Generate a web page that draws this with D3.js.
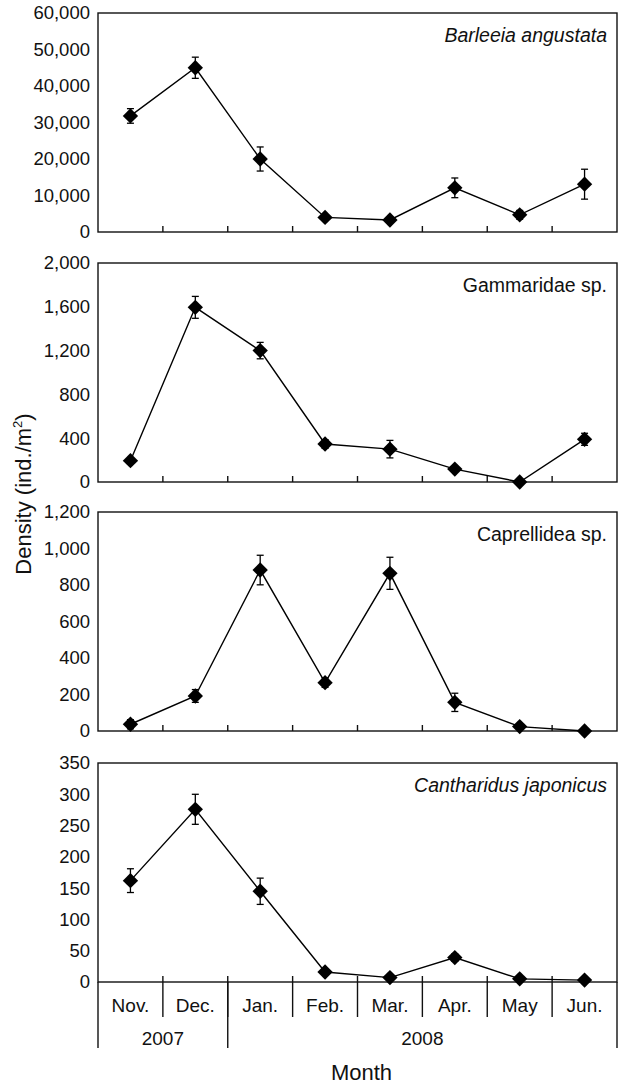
<!DOCTYPE html>
<html>
<head>
<meta charset="utf-8">
<script src="https://cdn.jsdelivr.net/npm/d3@7"></script>
<style>
  body { margin: 0; background: #fff; }
  text { font-family: "Liberation Sans", Arial, sans-serif; fill: #111; }
</style>
</head>
<body>
<div id="chart"></div>
<script>
// data
var months = ["Nov.", "Dec.", "Jan.", "Feb.", "Mar.", "Apr.", "May", "Jun."]
var yearLabels = ["2007", "2008"]
var yearSpans = [2, 6]   // number of months in each year

var speciesNames = ["Barleeia angustata", "Gammaridae sp.", "Caprellidea sp.", "Cantharidus japonicus"]
var speciesItalic = [true, false, false, true]
var yMax = [60000, 2000, 1200, 350]
var yStep = [10000, 400, 200, 50]

var barleeia = [31800, 45000, 20000, 4000, 3300, 12100, 4700, 13100]
var barleeiaErr = [2000, 2900, 3300, 600, 400, 2700, 1200, 4100]
var gammaridae = [195, 1595, 1200, 347, 300, 118, 0, 390]
var gammaridaeErr = [15, 100, 75, 40, 80, 15, 0, 55]
var caprellidea = [37, 192, 882, 265, 864, 157, 24, 0]
var caprellideaErr = [25, 35, 81, 26, 88, 50, 8, 0]
var cantharidus = [162, 276, 145, 16, 7, 39, 5, 3]
var cantharidusErr = [19, 24, 21, 4, 2, 6, 2, 1]

var seriesValues = [barleeia, gammaridae, caprellidea, cantharidus]
var seriesErrors = [barleeiaErr, gammaridaeErr, caprellideaErr, cantharidusErr]

var width = 626, height = 1085
var left = 98, right = 617
var panelTops = [13, 263, 512, 763]
var panelH = 219

var svg = d3.select('#chart').append('svg')
  .attr('width', width)
  .attr('height', height)

var x = d3.scaleBand()
  .domain(months)
  .range([left, right])

var fmt = d3.format(',')
var diamond = d3.symbol().type(d3.symbolDiamond2).size(150)

seriesValues.forEach(function(vals, i){
  var top = panelTops[i]
  var bottom = top + panelH
  var errs = seriesErrors[i]

  var y = d3.scaleLinear()
    .domain([0, yMax[i]])
    .range([bottom, top])

  var g = svg.append('g')

  // y axis labels (no tick marks in the original)
  var yAxis = d3.axisLeft(y)
    .tickValues(d3.range(0, yMax[i] + 1, yStep[i]))
    .tickFormat(fmt)
    .tickSize(0)
    .tickPadding(8)

  g.append('g')
    .attr('transform', 'translate(' + left + ',0)')
    .call(yAxis)
    .call(function(a){
      a.select('.domain').remove()
      a.selectAll('text')
        .attr('font-size', 18.5)
        .attr('font-family', '"Liberation Sans", Arial, sans-serif')
        .attr('fill', '#111')
    })

  // frame
  g.append('rect')
    .attr('x', left)
    .attr('y', top)
    .attr('width', right - left)
    .attr('height', panelH)
    .attr('fill', 'none')
    .attr('stroke', '#111')
    .attr('stroke-width', 1.4)

  // month separator ticks
  var bounds = months.slice(1).map(function(m){ return x(m) })
  var last = (i == seriesValues.length - 1)
  g.selectAll('.sep')
    .data(bounds)
    .enter()
    .append('line')
    .attr('x1', d => d)
    .attr('x2', d => d)
    .attr('y1', bottom - 6)
    .attr('y2', last ? bottom + 35 : bottom)
    .attr('stroke', '#111')
    .attr('stroke-width', 1.4)

  // connecting line
  var line = d3.line()
    .x(function(d, j){ return x(months[j]) + x.bandwidth() / 2 })
    .y(d => y(d))

  g.append('path')
    .datum(vals)
    .attr('d', line)
    .attr('fill', 'none')
    .attr('stroke', '#000')
    .attr('stroke-width', 1.4)

  // error bars
  var eb = g.selectAll('.err')
    .data(vals)
    .enter()
    .append('g')
    .filter(function(d, j){ return errs[j] > 0 })

  eb.append('line')
    .attr('x1', (d, j) => x(months[j]) + x.bandwidth() / 2)
    .attr('x2', (d, j) => x(months[j]) + x.bandwidth() / 2)
    .attr('y1', (d, j) => y(d + errs[j]))
    .attr('y2', (d, j) => y(d - errs[j]))
    .attr('stroke', '#000')
    .attr('stroke-width', 1.3)

  eb.selectAll('.cap')
    .data(function(d){
      var j = vals.indexOf(d)
      return [[j, d + errs[j]], [j, d - errs[j]]]
    })
    .enter()
    .append('line')
    .attr('x1', d => x(months[d[0]]) + x.bandwidth() / 2 - 3.5)
    .attr('x2', d => x(months[d[0]]) + x.bandwidth() / 2 + 3.5)
    .attr('y1', d => y(d[1]))
    .attr('y2', d => y(d[1]))
    .attr('stroke', '#000')
    .attr('stroke-width', 1.3)

  // diamond markers
  g.selectAll('.pt')
    .data(vals)
    .enter()
    .append('path')
    .attr('d', diamond)
    .attr('transform', (d, j) => 'translate(' + (x(months[j]) + x.bandwidth() / 2) + ',' + y(d) + ')')
    .attr('fill', '#000')

  // species name
  g.append('text')
    .attr('x', 607)
    .attr('y', top + 28.5)
    .attr('text-anchor', 'end')
    .attr('font-size', 19.5)
    .attr('font-style', speciesItalic[i] ? 'italic' : 'normal')
    .text(speciesNames[i])
})

// bottom category table: months and years
var lastBottom = panelTops[3] + panelH

svg.selectAll('.month')
  .data(months)
  .enter()
  .append('text')
  .attr('x', d => x(d) + x.bandwidth() / 2)
  .attr('y', lastBottom + 29.5)
  .attr('text-anchor', 'middle')
  .attr('font-size', 19)
  .text(d => d)

var yearBounds = [0]
yearSpans.forEach(function(s, k){ yearBounds.push(yearBounds[k] + s) })
var yearX = yearBounds.map(function(b){ return b < months.length ? x(months[b]) : right })

svg.selectAll('.yearline')
  .data(yearX)
  .enter()
  .append('line')
  .attr('x1', d => d)
  .attr('x2', d => d)
  .attr('y1', lastBottom)
  .attr('y2', lastBottom + 66)
  .attr('stroke', '#111')
  .attr('stroke-width', 1.4)

svg.selectAll('.year')
  .data(yearLabels)
  .enter()
  .append('text')
  .attr('x', (d, k) => (yearX[k] + yearX[k + 1]) / 2)
  .attr('y', lastBottom + 63)
  .attr('text-anchor', 'middle')
  .attr('font-size', 19)
  .text(d => d)

// axis titles
svg.append('text')
  .attr('x', (left + right) / 2 + 4)
  .attr('y', 1080)
  .attr('text-anchor', 'middle')
  .attr('font-size', 22)
  .text('Month')

var yt = svg.append('text')
  .attr('transform', 'translate(31,494) rotate(-90)')
  .attr('text-anchor', 'middle')
  .attr('font-size', 22)
yt.append('tspan').text('Density (ind./m')
yt.append('tspan').attr('font-size', 13).attr('dy', -9).text('2')
yt.append('tspan').attr('dy', 9).text(')')
</script>
</body>
</html>
